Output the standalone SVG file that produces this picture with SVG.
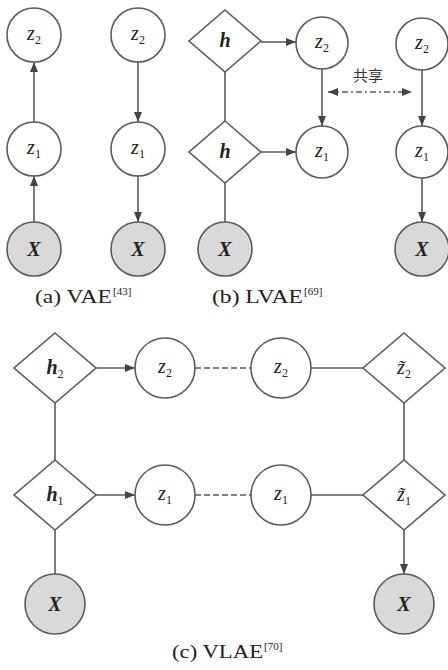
<svg xmlns="http://www.w3.org/2000/svg" width="448" height="670" viewBox="0 0 448 670">
<style>
.nd{fill:#fff;stroke:#5a5a5a;stroke-width:1.6}
.obs{fill:#d9d9d9;stroke:#5a5a5a;stroke-width:1.6}
.ln{stroke:#5a5a5a;stroke-width:1.6;fill:none}
.ar{stroke:#5a5a5a;stroke-width:1.6;fill:none;marker-end:url(#ah)}
.z{font-family:"Liberation Serif",serif;font-style:italic;font-size:20px;fill:#222;text-anchor:middle}
.sub{font-style:normal;font-size:12px}
.x{font-family:"Liberation Serif",serif;font-style:italic;font-weight:bold;font-size:20px;fill:#222;text-anchor:middle}
.cap{font-family:"Liberation Serif",serif;font-size:18px;fill:#222}
.sup{font-size:11px}
.cjk{font-family:"Noto Sans CJK SC",sans-serif;font-size:15px;fill:#333;text-anchor:middle}
</style>
<defs>
<marker id="ah" markerUnits="userSpaceOnUse" markerWidth="10" markerHeight="8" refX="10" refY="4" orient="auto-start-reverse">
<path d="M0,0 L10,4 L0,8 z" fill="#444"/>
</marker>
</defs>

<g id="connectors">
<line class="ar" x1="34" y1="222" x2="34" y2="176"/>
<line class="ar" x1="34" y1="122" x2="34" y2="62"/>
<line class="ar" x1="138" y1="62" x2="138" y2="122"/>
<line class="ar" x1="138" y1="176" x2="138" y2="222"/>
<line class="ar" x1="261" y1="42" x2="296" y2="42"/>
<line class="ar" x1="261" y1="152" x2="296" y2="152"/>
<line class="ln" x1="225" y1="72" x2="225" y2="121"/>
<line class="ln" x1="225" y1="183" x2="225" y2="222"/>
<line class="ar" x1="322" y1="69" x2="322" y2="126"/>
<line class="ar" x1="422" y1="70" x2="422" y2="126"/>
<line class="ar" x1="422" y1="178" x2="422" y2="222"/>
<line x1="328" y1="92" x2="412" y2="92" stroke="#5a5a5a" stroke-width="1.6" stroke-dasharray="6,3,2,3" marker-start="url(#ah)" marker-end="url(#ah)"/>
<line class="ar" x1="96" y1="368" x2="135" y2="368"/>
<line class="ar" x1="96" y1="495" x2="135" y2="495"/>
<line class="ln" x1="195" y1="368" x2="251" y2="368" stroke-dasharray="6,3"/>
<line class="ln" x1="195" y1="495" x2="251" y2="495" stroke-dasharray="6,3"/>
<line class="ln" x1="311" y1="368" x2="363" y2="368"/>
<line class="ln" x1="311" y1="495" x2="363" y2="495"/>
<line class="ln" x1="55" y1="403" x2="55" y2="460"/>
<line class="ln" x1="55" y1="530" x2="55" y2="574"/>
<line class="ln" x1="404" y1="403" x2="404" y2="460"/>
<line class="ar" x1="404" y1="530" x2="404" y2="574"/>
</g>

<g id="a_z2_1"><circle class="nd" cx="34" cy="35" r="27"/><text class="z" x="34" y="40">z<tspan class="sub" dy="4">2</tspan></text></g>
<g id="a_z1_1"><circle class="nd" cx="34" cy="149" r="27"/><text class="z" x="34" y="154">z<tspan class="sub" dy="4">1</tspan></text></g>
<g id="a_x_1"><circle class="obs" cx="34" cy="249" r="27"/><text class="x" x="34" y="256">X</text></g>
<g id="a_z2_2"><circle class="nd" cx="138" cy="35" r="27"/><text class="z" x="138" y="40">z<tspan class="sub" dy="4">2</tspan></text></g>
<g id="a_z1_2"><circle class="nd" cx="138" cy="149" r="27"/><text class="z" x="138" y="154">z<tspan class="sub" dy="4">1</tspan></text></g>
<g id="a_x_2"><circle class="obs" cx="138" cy="249" r="27"/><text class="x" x="138" y="256">X</text></g>
<text class="cap" x="35" y="303" textLength="77" lengthAdjust="spacingAndGlyphs">(a) VAE</text>
<text class="cap sup" x="113" y="295">[43]</text>

<g id="b_h2"><polygon class="nd" points="225,10 261,41 225,72 189,41"/><text class="x" x="225" y="47">h</text></g>
<g id="b_h1"><polygon class="nd" points="225,121 261,152 225,183 189,152"/><text class="x" x="225" y="158">h</text></g>
<g id="b_x1"><circle class="obs" cx="225" cy="249" r="27"/><text class="x" x="225" y="256">X</text></g>
<g id="b_z2"><circle class="nd" cx="322" cy="43" r="26"/><text class="z" x="322" y="48">z<tspan class="sub" dy="4">2</tspan></text></g>
<g id="b_z1"><circle class="nd" cx="322" cy="152" r="26"/><text class="z" x="322" y="157">z<tspan class="sub" dy="4">1</tspan></text></g>
<g id="b_z2r"><circle class="nd" cx="422" cy="44" r="26"/><text class="z" x="422" y="49">z<tspan class="sub" dy="4">2</tspan></text></g>
<g id="b_z1r"><circle class="nd" cx="422" cy="152" r="26"/><text class="z" x="422" y="157">z<tspan class="sub" dy="4">1</tspan></text></g>
<g id="b_x2"><circle class="obs" cx="422" cy="249" r="27"/><text class="x" x="422" y="256">X</text></g>
<text class="cjk" x="368" y="81">共享</text>
<text class="cap" x="212" y="303" textLength="91" lengthAdjust="spacingAndGlyphs">(b) LVAE</text>
<text class="cap sup" x="304" y="295">[69]</text>

<g id="c_h2"><polygon class="nd" points="55,333 96,368 55,403 14,368"/><text class="x" x="55" y="374">h<tspan class="sub" dy="4" font-weight="normal">2</tspan></text></g>
<g id="c_h1"><polygon class="nd" points="55,460 96,495 55,530 14,495"/><text class="x" x="55" y="501">h<tspan class="sub" dy="4" font-weight="normal">1</tspan></text></g>
<g id="c_x1"><circle class="obs" cx="55" cy="604" r="30"/><text class="x" x="55" y="611">X</text></g>
<g id="c_z2a"><circle class="nd" cx="165" cy="368" r="30"/><text class="z" x="165" y="373">z<tspan class="sub" dy="4">2</tspan></text></g>
<g id="c_z1a"><circle class="nd" cx="165" cy="495" r="30"/><text class="z" x="165" y="500">z<tspan class="sub" dy="4">1</tspan></text></g>
<g id="c_z2b"><circle class="nd" cx="281" cy="368" r="30"/><text class="z" x="281" y="373">z<tspan class="sub" dy="4">2</tspan></text></g>
<g id="c_z1b"><circle class="nd" cx="281" cy="495" r="30"/><text class="z" x="281" y="500">z<tspan class="sub" dy="4">1</tspan></text></g>
<g id="c_zt2"><polygon class="nd" points="404,333 445,368 404,403 363,368"/><text class="z" x="404" y="374">z̃<tspan class="sub" dy="4">2</tspan></text></g>
<g id="c_zt1"><polygon class="nd" points="404,460 445,495 404,530 363,495"/><text class="z" x="404" y="501">z̃<tspan class="sub" dy="4">1</tspan></text></g>
<g id="c_x2"><circle class="obs" cx="404" cy="604" r="30"/><text class="x" x="404" y="611">X</text></g>
<text class="cap" x="172" y="658" textLength="91" lengthAdjust="spacingAndGlyphs">(c) VLAE</text>
<text class="cap sup" x="264" y="650">[70]</text>
</svg>
